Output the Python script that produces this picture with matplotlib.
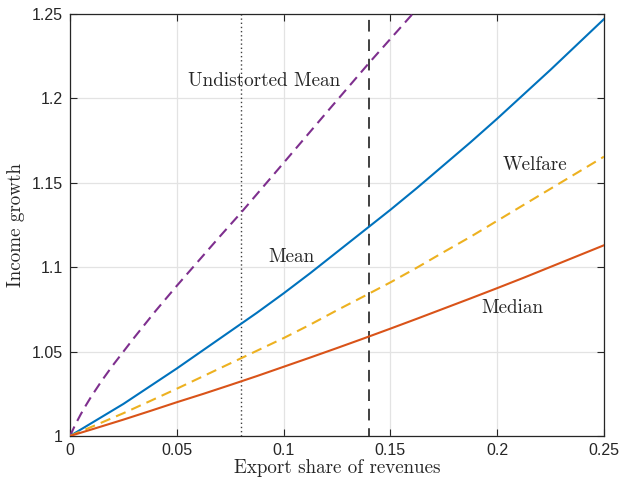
import matplotlib
matplotlib.use("Agg")
import matplotlib.pyplot as plt
import numpy as np

# export share grid and income growth curves
x_grid = [0.0, 0.0125, 0.025, 0.0375, 0.05, 0.0625, 0.075, 0.0875, 0.1, 0.1125, 0.125, 0.1375,
          0.15, 0.1625, 0.175, 0.1875, 0.2, 0.2125, 0.225, 0.2375, 0.25]
mean_growth = [1.0, 1.0095, 1.019, 1.0295, 1.040, 1.051, 1.062, 1.073, 1.0845, 1.0965, 1.109, 1.1215,
               1.134, 1.147, 1.1605, 1.174, 1.188, 1.2025, 1.217, 1.232, 1.247]
welfare_growth = [1.0, 1.0067, 1.0135, 1.0207, 1.028, 1.0355, 1.043, 1.0505, 1.058, 1.066, 1.0745, 1.0827,
                  1.091, 1.0998, 1.109, 1.118, 1.1275, 1.137, 1.1465, 1.156, 1.1655]
median_growth = [1.0, 1.0048, 1.0097, 1.0148, 1.020, 1.025, 1.0302, 1.0355, 1.041, 1.0465, 1.0521, 1.0578,
                 1.0636, 1.0695, 1.0755, 1.0815, 1.0876, 1.0938, 1.1002, 1.1066, 1.113]

x_undist = [0.0, 0.0025, 0.005, 0.0075, 0.01, 0.015, 0.02, 0.03, 0.04, 0.05, 0.06, 0.07, 0.08, 0.09,
            0.1, 0.12, 0.14, 0.16, 0.17]
undist_growth = [1.0, 1.0068, 1.0128, 1.0183, 1.0235, 1.033, 1.0418, 1.0582, 1.074, 1.089, 1.1035, 1.118,
                 1.1322, 1.147, 1.1618, 1.1915, 1.221, 1.2495, 1.264]

x_dotted = 0.08
x_dashed = 0.14

labels = ['Undistorted Mean', 'Mean', 'Welfare', 'Median']
label_x = [0.0911, 0.1038, 0.2177, 0.2072]
label_y = [1.2103, 1.1058, 1.1605, 1.0756]

blue = '#0072BD'
orange = '#D95319'
yellow = '#EDB120'
purple = '#7E2F8E'

plt.rcParams['font.family'] = ['Liberation Sans', 'DejaVu Sans']

fig = plt.figure(figsize=(6.23, 4.78), dpi=100)
ax = fig.add_axes([0.1124, 0.0879, 0.8571, 0.8828])

ax.grid(True, color='#e3e3e3', linewidth=0.9)
ax.set_axisbelow(True)

ax.axvline(x_dotted, color='#404040', linewidth=1.0, linestyle=(0, (1, 2)), zorder=2)
ax.axvline(x_dashed, color='#404040', linewidth=1.4, linestyle=(2, (6, 4)), zorder=2)

ax.plot(x_undist, undist_growth, color=purple, linewidth=1.5, dashes=(5, 3), zorder=3)
ax.plot(x_grid, mean_growth, color=blue, linewidth=1.5, zorder=3)
ax.plot(x_grid, welfare_growth, color=yellow, linewidth=1.5, dashes=(5, 3), zorder=3)
ax.plot(x_grid, median_growth, color=orange, linewidth=1.5, zorder=3)

for txt, lx, ly in zip(labels, label_x, label_y):
    ax.text(lx, ly, txt, fontfamily='cmr10', fontsize=13.8, ha='center', va='center', color='#262626')

ax.set_xlim(0, 0.25)
ax.set_ylim(1, 1.25)
ax.set_xticks([0, 0.05, 0.1, 0.15, 0.2, 0.25])
ax.set_xticklabels(['0', '0.05', '0.1', '0.15', '0.2', '0.25'])
ax.set_yticks([1, 1.05, 1.1, 1.15, 1.2, 1.25])
ax.set_yticklabels(['1', '1.05', '1.1', '1.15', '1.2', '1.25'])
ax.tick_params(direction='in', top=True, right=True, length=5, width=0.8,
               labelsize=11.5, colors='#262626', pad=5)

for sp in ax.spines.values():
    sp.set_color('#262626')
    sp.set_linewidth(0.9)

ax.set_xlabel('Export share of revenues', fontfamily='cmr10', fontsize=13.7, color='#262626', labelpad=1)
ax.set_ylabel('Income growth', fontfamily='cmr10', fontsize=13.7, color='#262626', labelpad=5)

fig.savefig('out.png', dpi=100)
